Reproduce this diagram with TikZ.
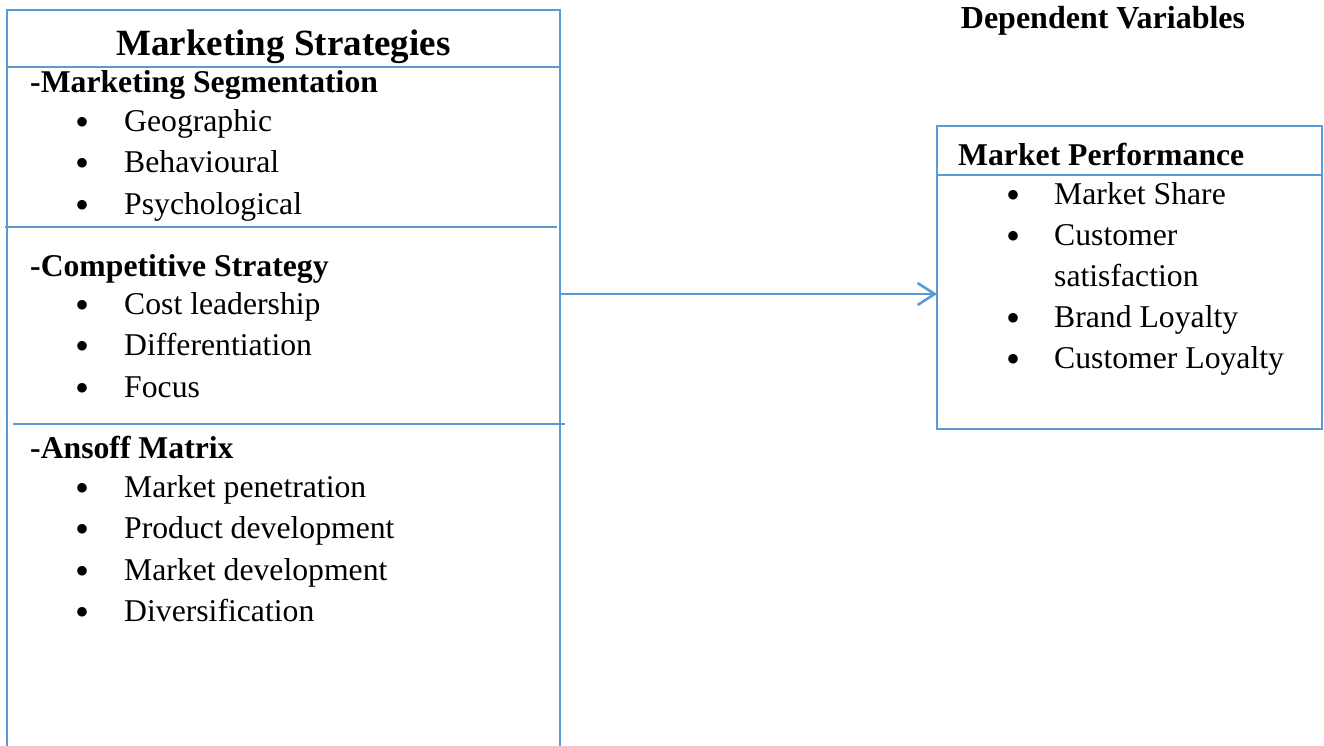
\documentclass[tikz,border=0pt]{standalone}
\usepackage{fontspec}
\setmainfont{Liberation Serif}
\usetikzlibrary{arrows.meta}
\definecolor{lb}{HTML}{5B9BD5}
\begin{document}
\begin{tikzpicture}[x=1pt,y=-1pt,
  frame/.style={draw=lb, line width=2.6pt, inner sep=0pt, outer sep=0pt, anchor=north west},
  sep/.style={draw=lb, line width=2.6pt},
  ttl/.style={anchor=base, inner sep=0pt, font=\fontsize{37}{40}\selectfont\bfseries},
  head/.style={anchor=base west, inner sep=0pt, font=\fontsize{31.7}{38}\selectfont\bfseries},
  item/.style={anchor=base west, inner sep=0pt, font=\fontsize{31.7}{38}\selectfont},
  bul/.style={anchor=center, inner sep=0pt, font=\fontsize{40}{40}\selectfont, yshift=4.8pt},
  conn/.style={draw=lb, line width=2.6pt, -{Straight Barb[length=17pt,width=22pt,line width=2.6pt]}}
]
\useasboundingbox (0,0) rectangle (1324,745);
\clip (0,0) rectangle (1324,745);

% left box (open at the bottom of the page)
\node[frame, minimum width=553pt, minimum height=760pt] (ms) at (7,10) {};
\draw[sep] (7,67) -- (560,67);
\draw[sep] (5,227) -- (557,227);
\draw[sep] (13,424) -- (565,424);

\node[ttl] (t1) at (283.5,55) {Marketing Strategies};

\node[head] (h1) at (30,92) {-Marketing Segmentation};
\node[bul] (b11) at (83,131) {\textbullet}; \node[item] (i11) at (124,131) {Geographic};
\node[bul] (b12) at (83,172.5) {\textbullet}; \node[item] (i12) at (124,172.5) {Behavioural};
\node[bul] (b13) at (83,214) {\textbullet}; \node[item] (i13) at (124,214) {Psychological};

\node[head] (h2) at (30,276) {-Competitive Strategy};
\node[bul] (b21) at (83,314) {\textbullet}; \node[item] (i21) at (124,314) {Cost leadership};
\node[bul] (b22) at (83,355.5) {\textbullet}; \node[item] (i22) at (124,355.5) {Differentiation};
\node[bul] (b23) at (83,397) {\textbullet}; \node[item] (i23) at (124,397) {Focus};

\node[head] (h3) at (30,458) {-Ansoff Matrix};
\node[bul] (b31) at (83,497) {\textbullet}; \node[item] (i31) at (124,497) {Market penetration};
\node[bul] (b32) at (83,538.5) {\textbullet}; \node[item] (i32) at (124,538.5) {Product development};
\node[bul] (b33) at (83,580) {\textbullet}; \node[item] (i33) at (124,580) {Market development};
\node[bul] (b34) at (83,621.5) {\textbullet}; \node[item] (i34) at (124,621.5) {Diversification};

% right side
\node[anchor=base, inner sep=0pt, font=\fontsize{32}{36}\selectfont\bfseries] (dv) at (1103,28) {Dependent Variables};

\node[frame, minimum width=385pt, minimum height=303pt] (mp) at (937,126) {};
\draw[sep] (937,175) -- (1322,175);
\node[head] (hp) at (958,165) {Market Performance};
\node[bul] (p1b) at (1013,204) {\textbullet}; \node[item] (p1) at (1054,204) {Market Share};
\node[bul] (p2b) at (1013,245) {\textbullet}; \node[item] (p2) at (1054,245) {Customer};
\node[item] (p2s) at (1054,286) {satisfaction};
\node[bul] (p3b) at (1013,327) {\textbullet}; \node[item] (p3) at (1054,327) {Brand Loyalty};
\node[bul] (p4b) at (1013,368) {\textbullet}; \node[item] (p4) at (1054,368) {Customer Loyalty};

% connector
\coordinate (ay) at (0,294);
\draw[conn] (ms.east |- ay) -- (mp.west |- ay);
\end{tikzpicture}
\end{document}
